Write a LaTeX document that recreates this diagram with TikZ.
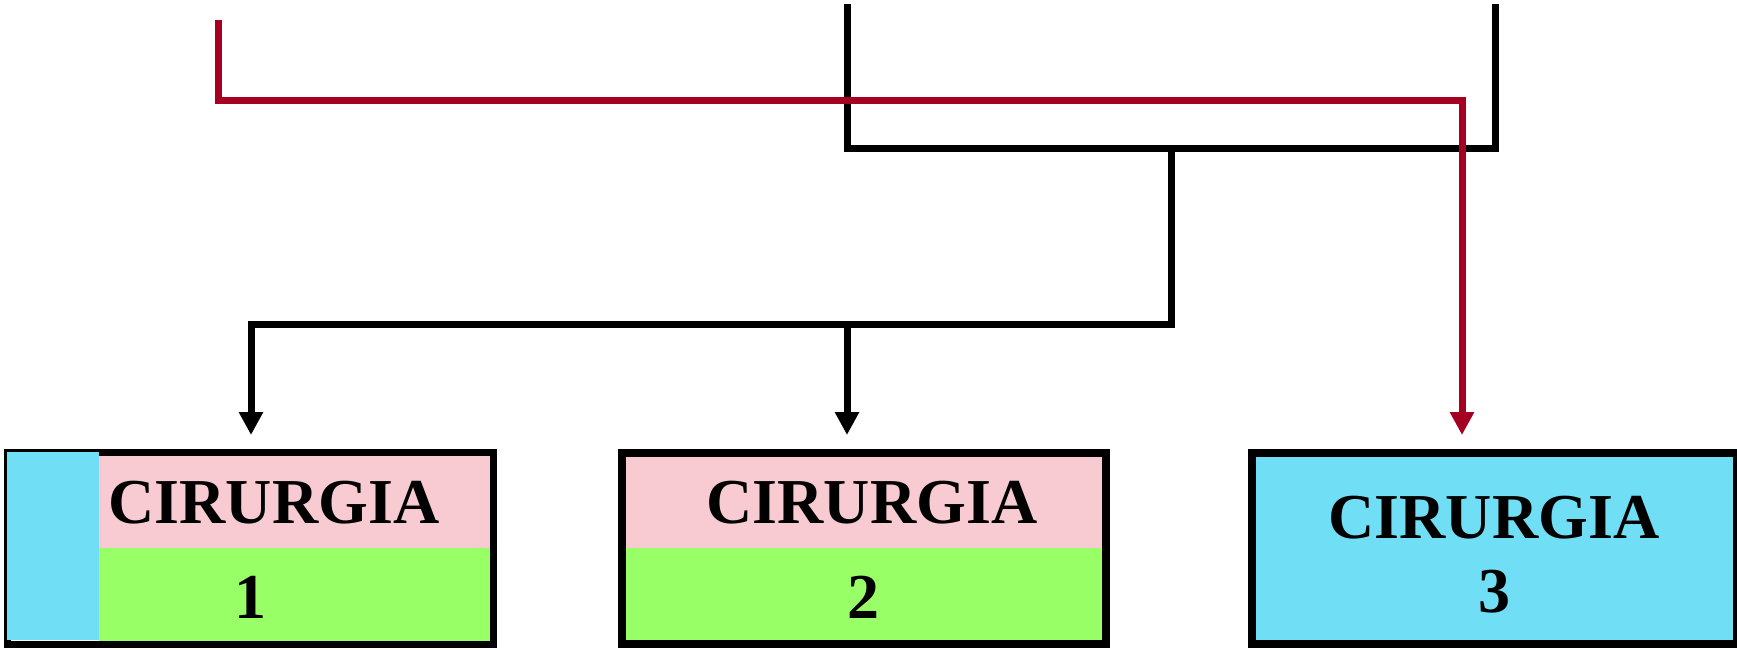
\documentclass[tikz,border=0pt]{standalone}
\usepackage{fontspec}
\setmainfont{Liberation Serif}
\usetikzlibrary{arrows.meta}
\definecolor{pinkfill}{RGB}{248,203,210}
\definecolor{greenfill}{RGB}{153,255,102}
\definecolor{cyanfill}{RGB}{112,223,245}
\definecolor{redline}{RGB}{165,0,33}
\tikzset{
  boxnode/.style={draw=black, rectangle, inner sep=0pt},
  lbl/.style={anchor=base, inner sep=0pt, font=\fontsize{64}{64}\selectfont\bfseries},
  blackarr/.style={draw=black, line width=7pt, -{Triangle[width=23pt,length=23pt]}, shorten >=14pt},
  blackline/.style={draw=black, line width=7pt},
  redarr/.style={draw=redline, line width=7pt, -{Triangle[width=23pt,length=23pt]}, shorten >=14pt},
}
\begin{document}
\begin{tikzpicture}[x=1pt,y=-1pt]
\path[use as bounding box, fill=white] (0,0) rectangle (1737,649);
\clip (0,0) rectangle (1737,649);
% fills
\fill[pinkfill] (99,454) rectangle (492,548);
\fill[greenfill] (99,548) rectangle (492,642);
\fill[pinkfill] (624,454) rectangle (1104,548);
\fill[greenfill] (624,548) rectangle (1104,642);
% boxes
\node[boxnode, line width=7pt, minimum width=486pt, minimum height=192pt] (b1) at (250.5,548.5) {};
\node[boxnode, line width=8pt, minimum width=484pt, minimum height=191pt] (b2) at (864,548.5) {};
\node[boxnode, line width=8pt, fill=cyanfill, minimum width=485pt, minimum height=191pt] (b3) at (1494.5,548.5) {};
\fill[cyanfill] (7,452) rectangle (99,640);
% texts
\node[lbl] (t1) at (274,523) {CIRURGIA};
\node[lbl] (n1) at (250,618) {1};
\node[lbl] (t2) at (872,523) {CIRURGIA};
\node[lbl] (n2) at (863,618) {2};
\node[lbl] (t3) at (1494,538) {CIRURGIA};
\node[lbl] (n3) at (1494,612) {3};
% coordinates
\coordinate (bin1) at (847,4);
\coordinate (bin2) at (1495,4);
\coordinate (j1) at (847,148);
\coordinate (j2) at (1495,148);
\coordinate (j3) at (1171,148);
\coordinate (j4) at (1171,324);
\coordinate (j5) at (251,324);
\coordinate (j6) at (847,324);
\coordinate (rin) at (218,20);
\coordinate (r1) at (218,100);
\coordinate (r2) at (1462,100);
% black connectors
\draw[blackline] (bin1) -- (j1) -- (j2) -- (bin2);
\draw[blackarr] (j3) -- (j4) -- (j5) -- (j5 |- b1.north);
\draw[blackarr] (j6) -- (j6 |- b2.north);
% red connector
\draw[redarr] (rin) -- (r1) -- (r2) -- (r2 |- b3.north);
\end{tikzpicture}
\end{document}
